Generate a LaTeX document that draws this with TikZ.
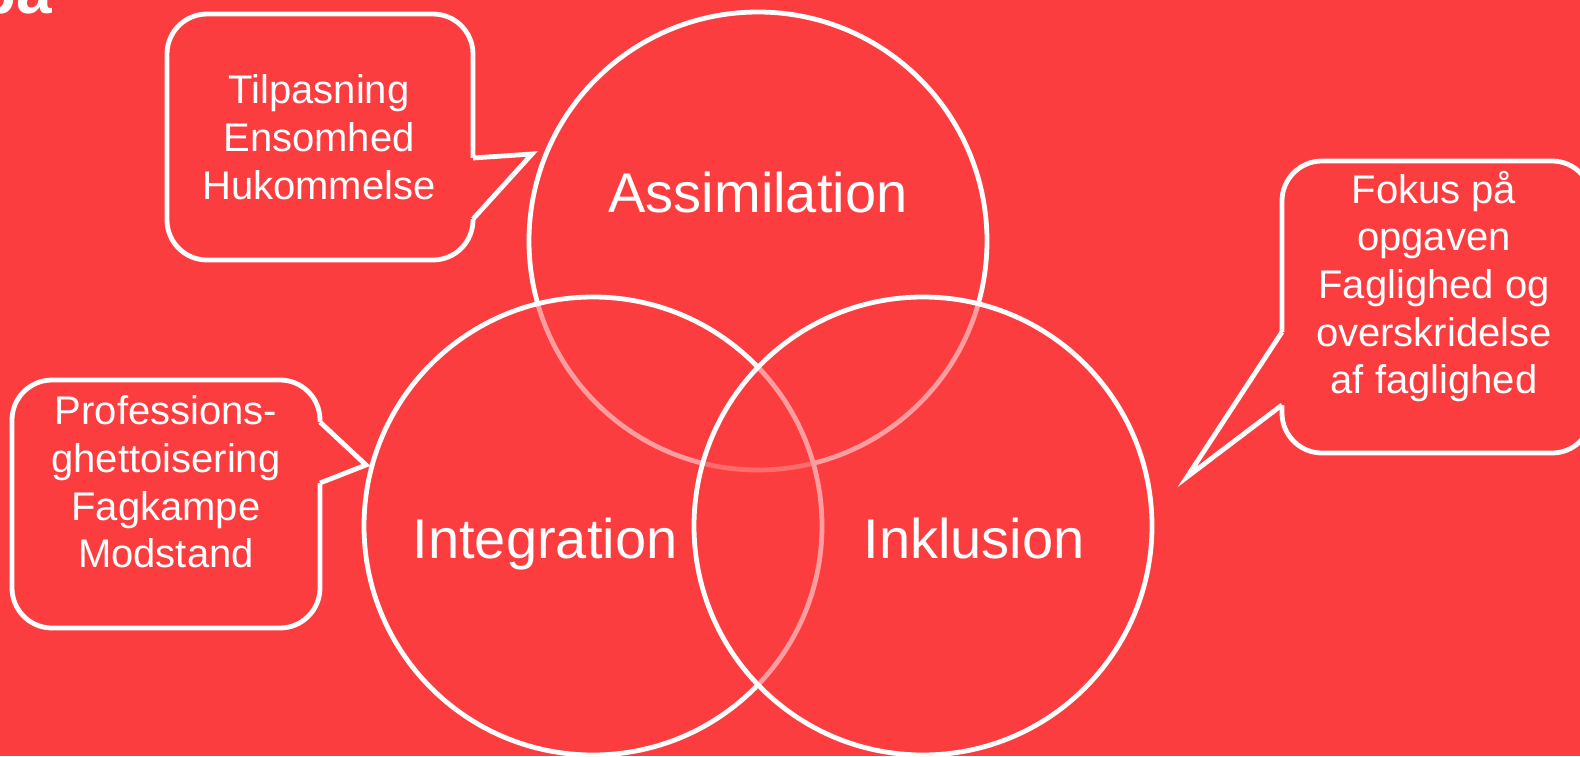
\documentclass[tikz,border=0pt]{standalone}
\usepackage{fontspec}
\setmainfont{Liberation Sans}
\definecolor{slidered}{RGB}{252,61,64}

\begin{document}
\begin{tikzpicture}[x=0.5pt,y=-0.5pt,
  every node/.style={text=white, outer sep=0pt, inner sep=0pt},
  ring/.style={circle, draw=white, line width=2.4pt, fill=slidered, fill opacity=0.5, minimum size=229pt},
  bubble/.style={rectangle, rounded corners=20pt, draw=white, line width=2.4pt, fill=slidered},
  bubbletext/.style={align=center, anchor=north, font=\fontsize{20}{23.8}\selectfont},
  ringtext/.style={anchor=base, font=\fontsize{28}{33}\selectfont}]
\useasboundingbox (0,0) rectangle (1580,756);
\clip (0,0) rectangle (1580,756);
\fill[slidered] (0,0) rectangle (1580,756);

\node[anchor=base east, font=\bfseries\fontsize{32}{38}\selectfont] (title) at (52,13) {ba};

\node[ring] (assim) at (758,241) {};
\node[ring] (integ) at (593,526) {};
\node[ring] (inkl) at (923,526) {};
\node[ringtext] (assimtext) at (758,212) {Assimilation};
\node[ringtext] (integtext) at (545,558) {Integration};
\node[ringtext] (inkltext) at (974,558) {Inklusion};

\node[bubble, minimum width=153pt, minimum height=123pt] (tilbox) at (320,137) {};
\coordinate (tiltip) at (532,154);
\fill[slidered] (469,158) -- (473,158) -- (tiltip) -- (473,219) -- (469,219) -- cycle;
\draw[white, line width=2.4pt] (473,158) -- (tiltip) -- (473,219);
\node[bubbletext] (tiltext) at (319,75) {Tilpasning\\Ensomhed\\Hukommelse};

\node[bubble, minimum width=154pt, minimum height=124pt] (fagbox) at (166,504) {};
\coordinate (fagtip) at (366,465);
\fill[slidered] (316,422) -- (320,422) -- (fagtip) -- (320,483) -- (316,483) -- cycle;
\draw[white, line width=2.4pt] (320,422) -- (fagtip) -- (320,483);
\node[bubbletext] (fagtext) at (166,396) {Professions-\\ghettoisering\\Fagkampe\\Modstand};

\node[bubble, minimum width=155pt, minimum height=146pt] (fokusbox) at (1437,307) {};
\coordinate (fokustip) at (1187,477);
\fill[slidered] (1286,332) -- (1282,332) -- (fokustip) -- (1282,405) -- (1286,405) -- cycle;
\draw[white, line width=2.4pt] (1282,332) -- (fokustip) -- (1282,405);
\node[bubbletext] (fokustext) at (1434,171) {Fokus på\\opgaven\\Faglighed og\\overskridelse\\af faglighed};
\end{tikzpicture}
\end{document}
